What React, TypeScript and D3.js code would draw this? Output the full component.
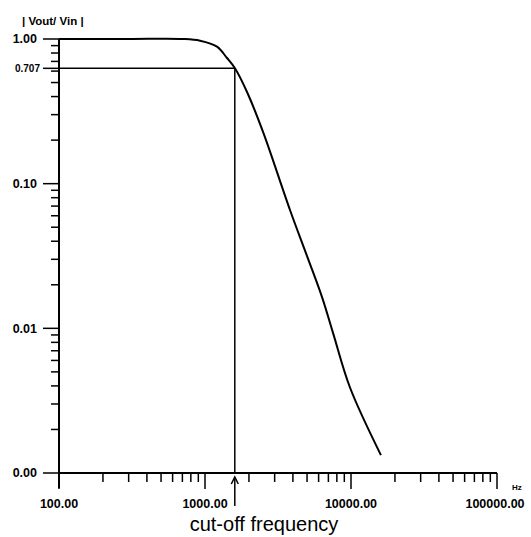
import React from "react";
import * as d3 from "d3";

// frequency response (Hz, |Vout/Vin|)
const freqHz = [100, 300, 706, 925, 1208, 1415, 1604, 1940, 2497, 3820, 5000, 6325, 7530, 9840, 16030];
const gain = [1, 1, 1, 0.973, 0.885, 0.739, 0.627, 0.43, 0.228, 0.0658, 0.0316, 0.0165, 0.0093, 0.0039, 0.00133];

const xTicks = [100, 1000, 10000, 100000];
const xTickLabels = ["100.00", "1000.00", "10000.00", "100000.00"];
const yTicks = [1, 0.1, 0.01, 0.001];
const yTickLabels = ["1.00", "0.10", "0.01", "0.00"];

const cutoffFreq = 1600;
const cutoffGain = 0.627;
const cutoffLabel = "0.707";

const W = 531, H = 537;
const margin = { top: 39, right: 34, bottom: 64, left: 59 };
const font = "'Liberation Sans', Arial, sans-serif";

export default function App() {
  const x = d3.scaleLog().domain([100, 100000]).range([margin.left, W - margin.right]);
  const y = d3.scaleLog().domain([0.001, 1]).range([H - margin.bottom, margin.top]);

  const pts: [number, number][] = freqHz.map((f, i) => [x(f), y(gain[i])]);
  const line = d3.line().curve(d3.curveCatmullRom.alpha(0.5))(pts) || "";

  // minor ticks 2..9 within each decade
  const xMinor: number[] = [];
  for (let d = 100; d < 100000; d *= 10) for (let k = 2; k <= 9; k++) xMinor.push(d * k);
  const yMinor: number[] = [];
  for (let d = 0.001; d < 0.9; d *= 10) for (let k = 2; k <= 9; k++) yMinor.push(d * k);

  const x0 = x(100), yb = y(0.001);
  const cx = x(cutoffFreq), cy = y(cutoffGain);

  return (
    <svg width={W} height={H} style={{ position: "absolute", left: 0, top: 0, background: "#fff" }}
      fontFamily={font} fontWeight={700}>
      <text x={22} y={25} fontSize={11.5}>| Vout/ Vin |</text>

      {/* y axis */}
      <line x1={x0} x2={x0} y1={y(1)} y2={yb + 15} stroke="#000" strokeWidth={2} />
      {yMinor.map((v, i) => (
        <line key={"ym" + i} x1={x0 - 8} x2={x0} y1={y(v)} y2={y(v)} stroke="#000" strokeWidth={1.5} />
      ))}
      {yTicks.map((v, i) => (
        <g key={"yt" + i}>
          <line x1={x0 - 16} x2={x0} y1={y(v)} y2={y(v)} stroke="#000" strokeWidth={1.5} />
          <text x={37} y={y(v)} dy="0.35em" textAnchor="end" fontSize={12.5}>{yTickLabels[i]}</text>
        </g>
      ))}
      <line x1={x0 - 16} x2={x0} y1={cy} y2={cy} stroke="#000" strokeWidth={1.5} />
      <text x={40} y={cy} dy="0.35em" textAnchor="end" fontSize={10}>{cutoffLabel}</text>

      {/* x axis */}
      <line x1={x0} x2={x(100000)} y1={yb} y2={yb} stroke="#000" strokeWidth={2} />
      {xMinor.map((v, i) => (
        <line key={"xm" + i} x1={x(v)} x2={x(v)} y1={yb} y2={yb + 9} stroke="#000" strokeWidth={1.5} />
      ))}
      {xTicks.map((v, i) => (
        <g key={"xt" + i}>
          <line x1={x(v)} x2={x(v)} y1={yb} y2={yb + 16} stroke="#000" strokeWidth={1.5} />
          <text x={x(v) + (i === 3 ? -2 : 0)} y={508} textAnchor="middle" fontSize={12.5}>{xTickLabels[i]}</text>
        </g>
      ))}
      <text x={512} y={490} fontSize={8}>Hz</text>

      {/* cut-off guides */}
      <line x1={x0} x2={cx} y1={cy} y2={cy} stroke="#000" strokeWidth={1.5} />
      <line x1={cx} x2={cx} y1={cy} y2={yb} stroke="#000" strokeWidth={1.5} />

      {/* response curve */}
      <path d={line} fill="none" stroke="#000" strokeWidth={2} />

      {/* arrow + caption */}
      <line x1={cx} x2={cx} y1={yb + 5} y2={yb + 33} stroke="#000" strokeWidth={1.5} />
      <path d={`M${cx - 3.5},${yb + 11} L${cx},${yb + 4} L${cx + 3.5},${yb + 11}`} fill="none" stroke="#000" strokeWidth={1.5} />
      <text x={264} y={531} textAnchor="middle" fontSize={20} fontWeight={400}>cut-off frequency</text>
    </svg>
  );
}
